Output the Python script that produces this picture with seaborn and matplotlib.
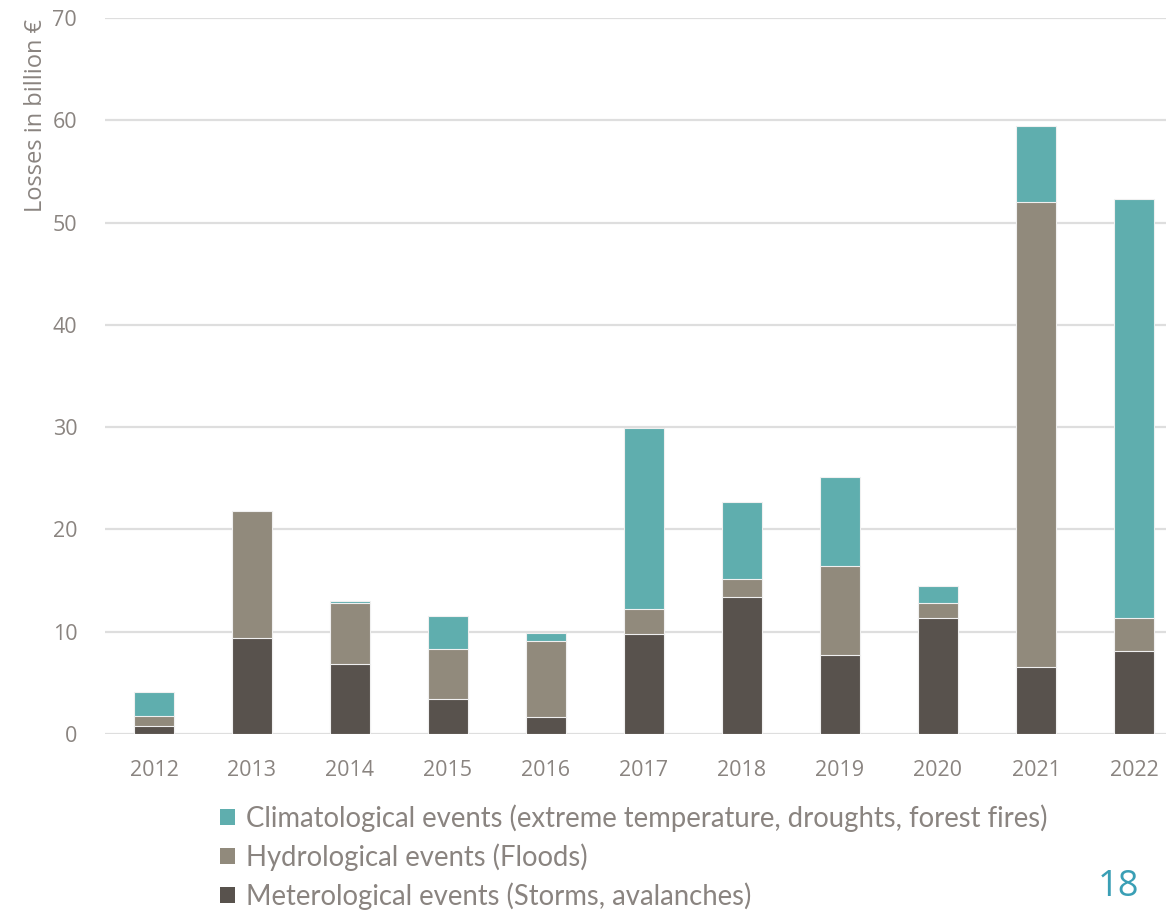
import matplotlib
matplotlib.use("Agg")
import matplotlib.pyplot as plt
from matplotlib.patches import Patch
import numpy as np
import pandas as pd
import seaborn as sns

# Annual natural-hazard losses (billion €) by event type
years = ["2012", "2013", "2014", "2015", "2016", "2017", "2018", "2019", "2020", "2021", "2022"]
meteorological = [0.8, 9.4, 6.85, 3.4, 1.65, 9.8, 13.4, 7.7, 11.3, 6.55, 8.1]
hydrological = [1.0, 12.4, 5.95, 4.9, 7.45, 2.4, 1.75, 8.7, 1.5, 45.45, 3.2]
climatological = [2.3, 0.0, 0.2, 3.25, 0.75, 17.7, 7.55, 8.7, 1.7, 7.4, 41.0]

labels = [
    "Climatological events (extreme temperature, droughts, forest fires)",
    "Hydrological events (Floods)",
    "Meterological events (Storms, avalanches)",
]
colors = ["#5FAEAE", "#918A7C", "#58524D"]
text_color = "#8A8480"

df = pd.DataFrame({
    "year": years,
    "met": meteorological,
    "hyd": hydrological,
    "cli": climatological,
})
df["lvl1"] = df["met"]
df["lvl2"] = df["met"] + df["hyd"]
df["lvl3"] = df["lvl2"] + df["cli"]

sns.set_theme(style="white")
plt.rcParams["font.family"] = ["Open Sans", "DejaVu Sans"]

fig = plt.figure(figsize=(11.66, 9.10), dpi=100)
ax = fig.add_axes([105 / 1166, 1 - 734 / 910, 1078 / 1166, (734 - 18) / 910])

# Stacked bars: draw cumulative totals from the top layer down
for col, c in zip(["lvl3", "lvl2", "lvl1"], colors):
    sns.barplot(data=df, x="year", y=col, order=years, color=c, saturation=1,
                width=0.4, edgecolor="#f0f0f0", linewidth=0.8, ax=ax, zorder=3)

ax.set_xlim(-0.5, 10.5)
ax.set_ylim(0, 70)
ax.set_yticks(np.arange(0, 71, 10))
ax.yaxis.grid(True, color="#dedede", linewidth=1.6, zorder=0)
ax.xaxis.grid(False)
for s in ax.spines.values():
    s.set_visible(False)
ax.tick_params(axis="both", length=0, labelsize=15.5, labelcolor=text_color)
ax.tick_params(axis="y", pad=20)
ax.tick_params(axis="x", pad=19)
ax.set_xlabel("")
ax.set_ylabel("Losses in billion €", fontsize=17, color=text_color)
ax.yaxis.set_label_coords(-57 / 1078, 1 - (115 - 18) / 716)

handles = [Patch(facecolor=c, edgecolor="none") for c in colors]
leg = fig.legend(handles, labels, loc="upper left", bbox_to_anchor=(220 / 1166, 1 - 804 / 910),
                 frameon=False, handlelength=0.55, handleheight=0.55, handletextpad=0.4,
                 labelspacing=0.42, borderaxespad=0, borderpad=0,
                 prop={"family": ["Lato", "DejaVu Sans"], "size": 19.8})
for t in leg.get_texts():
    t.set_color(text_color)

fig.text(1118 / 1166, 1 - 887 / 910, "18", color="#3A9FB5", fontsize=26,
         ha="center", va="center", family=["Open Sans", "DejaVu Sans"])

fig.savefig("out.png", dpi=100)
